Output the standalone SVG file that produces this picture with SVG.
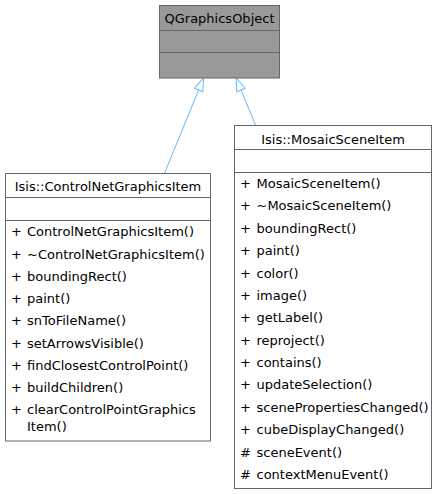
<svg xmlns="http://www.w3.org/2000/svg" width="438" height="494" viewBox="0 0 438 494">
<style>
.box{fill:#ffffff;stroke:#666666;stroke-width:1}
.gray{fill:#999999;stroke:#666666;stroke-width:1}
.div{stroke:#666666;stroke-width:1}
text{font-family:"DejaVu Sans","Liberation Sans",sans-serif;font-size:13px;fill:#000000}
.t{text-anchor:middle}
.edge{stroke:#63b8ff;stroke-width:1;fill:none}
</style>
<defs>
<marker id="inh" markerUnits="userSpaceOnUse" markerWidth="16" markerHeight="12" refX="0" refY="5" orient="auto" viewBox="-1 0 16 10">
<path d="M0,0.5 L13,5 L0,9.5 Z" fill="#ffffff" stroke="#63b8ff" stroke-width="1"/>
</marker>
</defs>
<g id="edges">
<path class="edge" d="M164.5,173.3 L198.6,90" marker-end="url(#inh)"/>
<path class="edge" d="M255.5,125 L241,90" marker-end="url(#inh)"/>
</g>
<g id="QGraphicsObject">
<rect class="gray" x="159.5" y="5.5" width="120" height="72.5"/>
<line class="div" x1="159.5" y1="30.5" x2="279.5" y2="30.5"/>
<line class="div" x1="159.5" y1="52.5" x2="279.5" y2="52.5"/>
<text class="t" x="219.5" y="22.5">QGraphicsObject</text>
</g>
<g id="ControlNetGraphicsItem">
<rect class="box" x="5.5" y="173.5" width="205" height="267.5"/>
<line class="div" x1="5.5" y1="197.5" x2="210.5" y2="197.5"/>
<line class="div" x1="5.5" y1="220.5" x2="210.5" y2="220.5"/>
<text class="t" x="108" y="190.5">Isis::ControlNetGraphicsItem</text>
<text x="11" y="236.4">+</text><text x="27" y="236.4">ControlNetGraphicsItem()</text>
<text x="11" y="258.6">+</text><text x="27" y="258.6">~ControlNetGraphicsItem()</text>
<text x="11" y="280.9">+</text><text x="27" y="280.9">boundingRect()</text>
<text x="11" y="303.1">+</text><text x="27" y="303.1">paint()</text>
<text x="11" y="325.4">+</text><text x="27" y="325.4">snToFileName()</text>
<text x="11" y="347.6">+</text><text x="27" y="347.6">setArrowsVisible()</text>
<text x="11" y="369.9">+</text><text x="27" y="369.9">findClosestControlPoint()</text>
<text x="11" y="392.1">+</text><text x="27" y="392.1">buildChildren()</text>
<text x="11" y="414.4">+</text><text x="27" y="414.4">clearControlPointGraphics</text>
<text x="27" y="431">Item()</text>
</g>
<g id="MosaicSceneItem">
<rect class="box" x="234.5" y="125.5" width="197" height="363"/>
<line class="div" x1="234.5" y1="149.5" x2="431.5" y2="149.5"/>
<line class="div" x1="234.5" y1="172.5" x2="431.5" y2="172.5"/>
<text class="t" x="333" y="144">Isis::MosaicSceneItem</text>
<text x="240" y="188">+</text><text x="256.5" y="188">MosaicSceneItem()</text>
<text x="240" y="210.4">+</text><text x="256.5" y="210.4">~MosaicSceneItem()</text>
<text x="240" y="232.8">+</text><text x="256.5" y="232.8">boundingRect()</text>
<text x="240" y="255.1">+</text><text x="256.5" y="255.1">paint()</text>
<text x="240" y="277.5">+</text><text x="256.5" y="277.5">color()</text>
<text x="240" y="299.9">+</text><text x="256.5" y="299.9">image()</text>
<text x="240" y="322.3">+</text><text x="256.5" y="322.3">getLabel()</text>
<text x="240" y="344.7">+</text><text x="256.5" y="344.7">reproject()</text>
<text x="240" y="367">+</text><text x="256.5" y="367">contains()</text>
<text x="240" y="389.4">+</text><text x="256.5" y="389.4">updateSelection()</text>
<text x="240" y="411.8">+</text><text x="256.5" y="411.8">scenePropertiesChanged()</text>
<text x="240" y="434.2">+</text><text x="256.5" y="434.2">cubeDisplayChanged()</text>
<text x="240" y="456.6">#</text><text x="256.5" y="456.6">sceneEvent()</text>
<text x="240" y="478.9">#</text><text x="256.5" y="478.9">contextMenuEvent()</text>
</g>
</svg>
